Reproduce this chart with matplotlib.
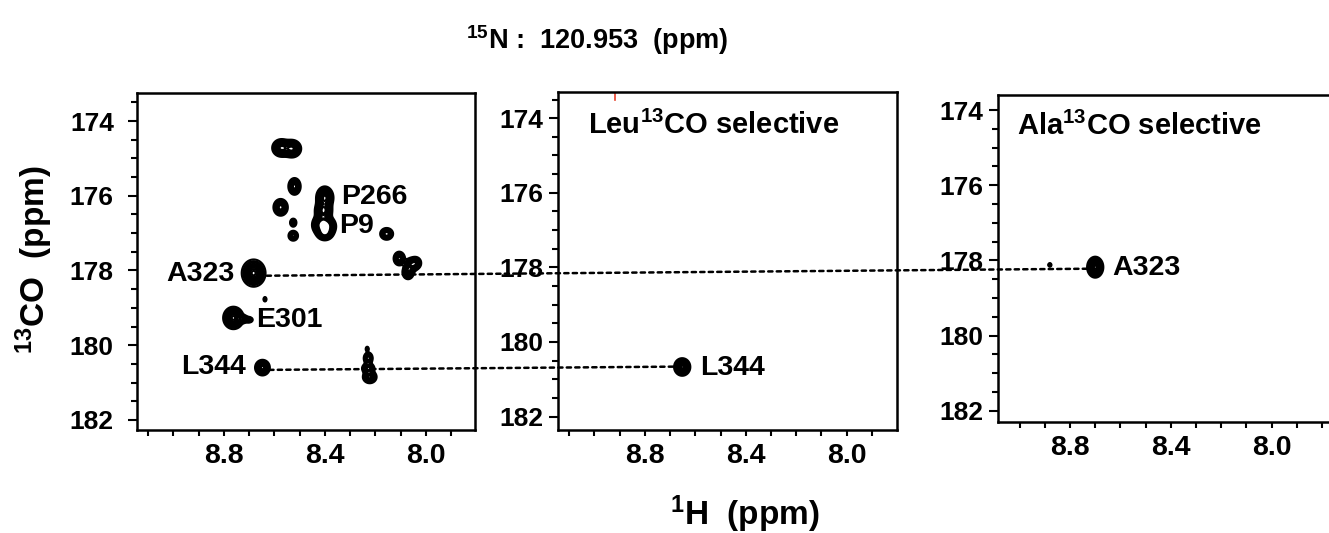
import numpy as np
import matplotlib
matplotlib.use("Agg")
import matplotlib.pyplot as plt
from matplotlib.patches import ConnectionPatch
from matplotlib.ticker import MultipleLocator, FormatStrFormatter

plt.rcParams['font.family'] = ['Liberation Sans', 'DejaVu Sans']
plt.rcParams['font.weight'] = 'bold'
plt.rcParams['mathtext.fontset'] = 'custom'
plt.rcParams['mathtext.rm'] = 'Liberation Sans:bold'
plt.rcParams['mathtext.bf'] = 'Liberation Sans:bold'
plt.rcParams['mathtext.default'] = 'rm'

# peak lists: 1H ppm, 13CO ppm, width H, width CO, intensity
full_h = [8.572, 8.530, 8.520, 8.575, 8.525, 8.525, 8.400, 8.405, 8.412, 8.392, 8.400,
          8.155, 8.105, 8.058, 8.070, 8.040, 8.682, 8.637, 8.762, 8.722, 8.700, 8.647,
          8.228, 8.228, 8.222, 8.232]
full_co = [174.72, 174.74, 175.75, 176.31, 176.72, 177.07, 176.05, 176.40, 176.78, 176.82, 177.00,
           177.02, 177.68, 177.85, 178.05, 177.80, 178.07, 178.77, 179.27, 179.30, 179.32, 180.60,
           180.35, 180.62, 180.85, 180.10]
full_wh = [0.017, 0.017, 0.012, 0.014, 0.007, 0.010, 0.016, 0.016, 0.018, 0.017, 0.015,
           0.013, 0.011, 0.013, 0.011, 0.011, 0.022, 0.004, 0.019, 0.010, 0.008, 0.014,
           0.009, 0.012, 0.013, 0.004]
full_wco = [0.11, 0.11, 0.11, 0.11, 0.06, 0.07, 0.14, 0.13, 0.13, 0.12, 0.09,
            0.08, 0.09, 0.09, 0.09, 0.08, 0.17, 0.04, 0.14, 0.05, 0.04, 0.10,
            0.08, 0.07, 0.08, 0.04]
full_amp = [1.0, 1.0, 0.8, 0.8, 0.5, 0.6, 1.0, 1.0, 1.0, 1.0, 0.9,
            0.7, 0.8, 0.8, 0.8, 0.7, 1.0, 0.3, 1.0, 0.6, 0.5, 0.9,
            0.7, 0.8, 0.9, 0.3]

leu_h = [8.652]
leu_co = [180.67]
leu_wh = [0.015]
leu_wco = [0.11]
leu_amp = [1.0]

ala_h = [8.700, 8.880]
ala_co = [178.18, 178.12]
ala_wh = [0.015, 0.004]
ala_wco = [0.13, 0.03]
ala_amp = [1.0, 0.35]

full_labels = ["P266", "P9", "A323", "E301", "L344"]
full_lab_h = [8.337, 8.344, 8.758, 8.672, 8.712]
full_lab_co = [176.02, 176.80, 178.10, 179.32, 180.57]
full_lab_ha = ["left", "left", "right", "left", "right"]

fig = plt.figure(figsize=(13.29, 5.33), dpi=100)
ax1 = fig.add_axes([0.1029, 0.1932, 0.2545, 0.6323])
ax2 = fig.add_axes([0.4201, 0.1932, 0.2546, 0.6348])
ax3 = fig.add_axes([0.7507, 0.2088, 0.2543, 0.6130])


def spectrum(ax, hs, cos, whs, wcos, amps, xlim, ylim, ypad):
    x = np.linspace(xlim[1], xlim[0], 800)
    y = np.linspace(ylim[1], ylim[0], 800)
    X, Y = np.meshgrid(x, y)
    Z = np.zeros_like(X)
    for h, c, wh, wc, a in zip(hs, cos, whs, wcos, amps):
        Z += a * np.exp(-((X - h) ** 2 / (2 * wh ** 2) + (Y - c) ** 2 / (2 * wc ** 2)))
    ax.contour(X, Y, Z, levels=[0.1, 0.17, 0.25, 0.35, 0.46, 0.58, 0.7, 0.82, 0.94],
               colors='black', linewidths=1.5)
    ax.set_xlim(xlim)
    ax.set_ylim(ylim)
    ax.xaxis.set_major_locator(MultipleLocator(0.4))
    ax.xaxis.set_minor_locator(MultipleLocator(0.1))
    ax.yaxis.set_major_locator(MultipleLocator(2))
    ax.yaxis.set_minor_locator(MultipleLocator(0.5))
    ax.xaxis.set_major_formatter(FormatStrFormatter('%.1f'))
    ax.tick_params(axis='y', which='major', length=6.5, width=1.5, labelsize=19, pad=ypad)
    ax.tick_params(axis='y', which='minor', length=4, width=1.5)
    ax.tick_params(axis='x', which='both', length=4.5, width=1.5, labelsize=20.5, pad=5)
    for s in ax.spines.values():
        s.set_linewidth(1.8)


spectrum(ax1, full_h, full_co, full_wh, full_wco, full_amp, (9.145, 7.805), (182.27, 173.25), 10)
spectrum(ax2, leu_h, leu_co, leu_wh, leu_wco, leu_amp, (9.143, 7.802), (182.36, 173.29), 4)
spectrum(ax3, ala_h, ala_co, ala_wh, ala_wco, ala_amp, (9.087, 7.746), (182.29, 173.6), 4)

for lab, h, c, ha in zip(full_labels, full_lab_h, full_lab_co, full_lab_ha):
    ax1.text(h, c, lab, ha=ha, va='center', fontsize=20.5)

ax2.text(9.025, 174.2, r'Leu$^{13}$CO selective', ha='left', va='center', fontsize=21)
ax2.text(8.582, 180.70, "L344", ha='left', va='center', fontsize=20.5)
ax3.text(9.011, 174.44, r'Ala$^{13}$CO selective', ha='left', va='center', fontsize=21)
ax3.text(8.632, 178.20, "A323", ha='left', va='center', fontsize=20.5)

# small red artefact at the top of the Leu panel
ax2.plot([8.92, 8.92], [173.29, 173.5], color='#e8402a', lw=1.2)

# dashed guide lines between the panels
dash = (0, (1.7, 1.7))
c1 = ConnectionPatch(xyA=(8.63, 178.14), coordsA=ax1.transData,
                     xyB=(8.71, 178.22), coordsB=ax3.transData,
                     ls=dash, lw=1.8, color='black')
fig.add_artist(c1)
c2 = ConnectionPatch(xyA=(8.62, 180.66), coordsA=ax1.transData,
                     xyB=(8.67, 180.66), coordsB=ax2.transData,
                     ls=dash, lw=1.8, color='black')
fig.add_artist(c2)

fig.text(0.449, 0.925, r'$^{15}$N :  120.953  (ppm)', ha='center', va='center', fontsize=19.5)
fig.text(0.026, 0.512, r'$^{13}$CO  (ppm)', ha='center', va='center', rotation=90, fontsize=24)
fig.text(0.5606, 0.036, r'$^{1}$H  (ppm)', ha='center', va='center', fontsize=24)

fig.savefig("out.png", dpi=100)
